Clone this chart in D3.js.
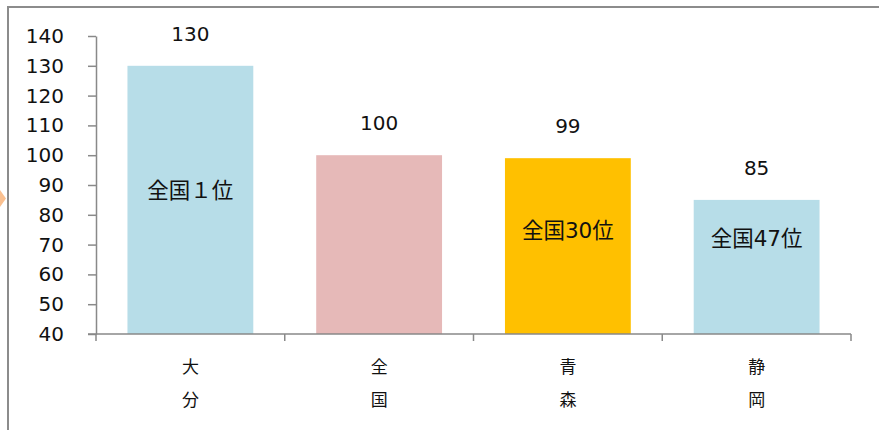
<!DOCTYPE html>
<html>
<head>
<meta charset="utf-8">
<script src="https://cdn.jsdelivr.net/npm/d3@7"></script>
<style>
  html, body { margin: 0; padding: 0; background: #fff; }
  svg { display: block; }
  text { font-family: "DejaVu Sans", Verdana, "Noto Sans CJK JP", sans-serif; fill: #111; }
</style>
</head>
<body>
<svg id="chart" width="879" height="430"></svg>
<script>
// Prefectures compared against the national average (= 100)
const categories = ["大分", "全国", "青森", "静岡"];
const values = [130, 100, 99, 85];
const rankLabels = ["全国１位", "", "全国30位", "全国47位"];
const barColors = ["#B7DDE8", "#E6B9B8", "#FFC000", "#B7DDE8"];
const yTicks = [40, 50, 60, 70, 80, 90, 100, 110, 120, 130, 140];

// Vertical nudges of the rank labels, in pixels from the bar's middle
const rankNudge = [-9, 0, -16, -28];

const svg = d3.select("#chart");
const axisColor = "#898989";

// frame of the slide panel
svg.append("path")
  .attr("d", "M8,440 V7 H890")
  .attr("fill", "none")
  .attr("stroke", "#8c8c8c")
  .attr("stroke-width", 2);

// small marker peeking in from the left edge
svg.append("path")
  .attr("d", "M0,190 L6,198.5 L0,207 Z")
  .attr("fill", "#FAC090");

const x = d3.scaleBand()
  .domain(categories)
  .range([96, 851])
  .paddingInner(1 / 3)
  .paddingOuter(1 / 6);

const y = d3.scaleLinear()
  .domain([40, 140])
  .range([334, 36]);

// bars
svg.append("g")
  .selectAll("rect")
  .data(values)
  .join("rect")
  .attr("x", (d, i) => x(categories[i]))
  .attr("y", d => y(d))
  .attr("width", x.bandwidth())
  .attr("height", d => y(40) - y(d))
  .attr("fill", (d, i) => barColors[i]);

// y axis
const yAxis = svg.append("g")
  .attr("transform", "translate(96,0)")
  .call(d3.axisLeft(y).tickValues(yTicks).tickSizeInner(8).tickSizeOuter(0).tickPadding(24));
yAxis.select(".domain").attr("stroke", axisColor).attr("stroke-width", 1.5);
yAxis.selectAll(".tick line").attr("stroke", axisColor).attr("stroke-width", 1.5);
yAxis.selectAll(".tick text")
  .attr("font-size", 20)
  .attr("font-family", "\"DejaVu Sans\", Verdana, sans-serif")
  .attr("fill", "#111");

// x axis line and category boundary ticks
const xAxisG = svg.append("g");
xAxisG.append("line")
  .attr("x1", 88).attr("x2", x.range()[1])
  .attr("y1", y(40)).attr("y2", y(40))
  .attr("stroke", axisColor).attr("stroke-width", 1.5);
const boundaries = categories.map(c => x(c) - x.step() * x.paddingOuter()).concat([x.range()[1]]);
xAxisG.selectAll(".bt")
  .data(boundaries)
  .join("line")
  .attr("x1", d => d).attr("x2", d => d)
  .attr("y1", y(40)).attr("y2", y(40) + 7)
  .attr("stroke", axisColor).attr("stroke-width", 1.5);

// category labels, one character per line
const catG = svg.append("g");
categories.forEach(c => {
  const t = catG.append("text")
    .attr("text-anchor", "middle")
    .attr("font-size", 17)
    .attr("font-family", "\"Noto Sans CJK JP\", sans-serif");
  Array.from(c).forEach((ch, j) => {
    t.append("tspan")
      .attr("x", x(c) + x.bandwidth() / 2)
      .attr("y", 373 + j * 33)
      .text(ch);
  });
});

// value labels above the bars
svg.append("g")
  .selectAll("text")
  .data(values)
  .join("text")
  .attr("x", (d, i) => x(categories[i]) + x.bandwidth() / 2)
  .attr("y", d => y(d) - 25)
  .attr("text-anchor", "middle")
  .attr("font-size", 20)
  .text(d => d);

// national rank labels inside the bars
svg.append("g")
  .selectAll("text")
  .data(values)
  .join("text")
  .attr("x", (d, i) => x(categories[i]) + x.bandwidth() / 2)
  .attr("y", (d, i) => (y(d) + y(40)) / 2 + rankNudge[i])
  .attr("dy", "0.35em")
  .attr("text-anchor", "middle")
  .attr("font-size", 21.5)
  .text((d, i) => rankLabels[i]);
</script>
</body>
</html>
